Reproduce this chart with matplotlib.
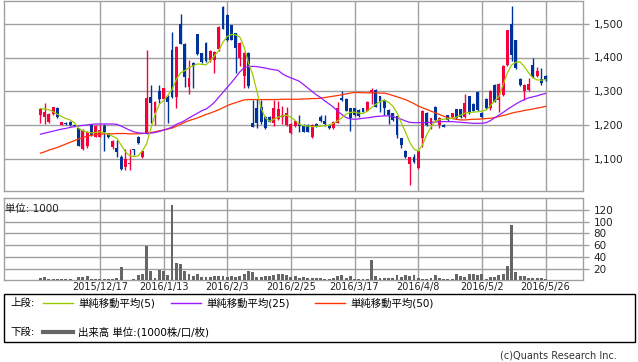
import matplotlib
matplotlib.use('Agg')
import matplotlib.pyplot as plt
from matplotlib.lines import Line2D
from matplotlib.patches import Rectangle

plt.rcParams['font.family'] = ['DejaVu Sans', 'Noto Sans CJK JP']

# daily candles (120 trading days)
opens = [1230, 1224, 1211, 1233, 1251, 1202, 1208, 1210, 1201, 1191,
         1130, 1140, 1201, 1167, 1167, 1198, 1176, 1135, 1133, 1108,
         1076, 1085, 1129, 1165, 1106, 1176, 1284, 1235, 1302, 1277,
         1284, 1422, 1284, 1500, 1441, 1314, 1384, 1468, 1412, 1444,
         1392, 1392, 1424, 1549, 1525, 1495, 1471, 1400, 1345, 1414,
         1206, 1250, 1255, 1225, 1225, 1206, 1218, 1225, 1201, 1178,
         1198, 1204, 1201, 1201, 1165, 1204, 1224, 1214, 1201, 1191,
         1208, 1282, 1278, 1250, 1250, 1245, 1250, 1243, 1299, 1304,
         1286, 1276, 1245, 1235, 1227, 1162, 1123, 1086, 1106, 1074,
         1162, 1235, 1203, 1253, 1201, 1201, 1230, 1225, 1247, 1247,
         1225, 1286, 1263, 1299, 1235, 1278, 1250, 1319, 1275, 1290,
         1377, 1500, 1451, 1338, 1302, 1304, 1379, 1345, 1337, 1345]
highs = [1250, 1265, 1235, 1255, 1253, 1211, 1211, 1212, 1202, 1193,
         1188, 1183, 1205, 1200, 1200, 1203, 1178, 1157, 1157, 1112,
         1130, 1131, 1129, 1170, 1127, 1422, 1319, 1272, 1319, 1311,
         1290, 1475, 1433, 1527, 1443, 1394, 1387, 1470, 1414, 1446,
         1421, 1419, 1492, 1551, 1527, 1497, 1473, 1445, 1416, 1416,
         1276, 1278, 1276, 1227, 1227, 1275, 1273, 1257, 1253, 1206,
         1215, 1230, 1203, 1203, 1203, 1206, 1230, 1230, 1203, 1213,
         1270, 1302, 1280, 1252, 1252, 1247, 1252, 1272, 1309, 1306,
         1288, 1278, 1247, 1237, 1229, 1164, 1127, 1108, 1116, 1125,
         1244, 1240, 1223, 1257, 1225, 1203, 1232, 1237, 1249, 1249,
         1292, 1288, 1265, 1301, 1240, 1280, 1304, 1321, 1324, 1377,
         1482, 1551, 1452, 1340, 1321, 1341, 1400, 1373, 1368, 1347]
lows = [1206, 1204, 1208, 1231, 1222, 1201, 1201, 1198, 1199, 1138,
        1128, 1132, 1170, 1165, 1165, 1124, 1162, 1130, 1106, 1068,
        1068, 1068, 1112, 1146, 1105, 1174, 1206, 1201, 1265, 1275,
        1206, 1282, 1250, 1439, 1312, 1292, 1309, 1407, 1384, 1387,
        1388, 1355, 1420, 1483, 1450, 1451, 1353, 1375, 1309, 1309,
        1194, 1191, 1205, 1189, 1209, 1198, 1216, 1204, 1198, 1176,
        1196, 1181, 1179, 1179, 1163, 1194, 1211, 1198, 1189, 1189,
        1206, 1273, 1241, 1184, 1228, 1225, 1238, 1241, 1263, 1253,
        1240, 1230, 1204, 1214, 1162, 1132, 1104, 1025, 1088, 1072,
        1137, 1198, 1190, 1214, 1191, 1194, 1214, 1223, 1219, 1222,
        1222, 1233, 1241, 1243, 1221, 1248, 1245, 1268, 1240, 1288,
        1375, 1390, 1365, 1316, 1275, 1302, 1340, 1343, 1319, 1330]
closes = [1248, 1240, 1233, 1253, 1224, 1210, 1205, 1202, 1199, 1140,
          1186, 1181, 1172, 1198, 1186, 1180, 1165, 1154, 1122, 1070,
          1102, 1088, 1126, 1149, 1123, 1281, 1267, 1270, 1278, 1309,
          1270, 1284, 1431, 1441, 1343, 1341, 1376, 1409, 1386, 1389,
          1419, 1417, 1490, 1485, 1453, 1453, 1428, 1443, 1414, 1316,
          1196, 1208, 1211, 1191, 1211, 1250, 1249, 1230, 1235, 1204,
          1213, 1198, 1181, 1181, 1201, 1196, 1214, 1204, 1191, 1211,
          1250, 1275, 1243, 1221, 1230, 1227, 1240, 1270, 1304, 1255,
          1270, 1250, 1230, 1216, 1172, 1142, 1106, 1106, 1093, 1123,
          1242, 1201, 1221, 1216, 1221, 1196, 1216, 1235, 1221, 1224,
          1265, 1235, 1243, 1245, 1224, 1250, 1302, 1270, 1322, 1375,
          1480, 1407, 1368, 1319, 1319, 1322, 1343, 1361, 1325, 1333]

ma5 = [1250, 1248, 1246, 1240, 1233, 1226, 1220, 1216, 1208, 1191,
       1184, 1180, 1178, 1179, 1181, 1178, 1174, 1168, 1162, 1142,
       1122, 1111, 1108, 1110, 1125, 1145, 1190, 1232, 1262, 1273,
       1288, 1306, 1335, 1355, 1361, 1370, 1376, 1381, 1380, 1378,
       1390, 1405, 1420, 1445, 1462, 1468, 1467, 1460, 1430, 1385,
       1350, 1300, 1250, 1222, 1212, 1218, 1224, 1228, 1230, 1224,
       1215, 1203, 1199, 1198, 1196, 1197, 1198, 1199, 1200, 1206,
       1213, 1222, 1233, 1238, 1239, 1236, 1235, 1242, 1252, 1262,
       1270, 1274, 1268, 1257, 1237, 1208, 1180, 1150, 1130, 1124,
       1142, 1172, 1195, 1212, 1217, 1218, 1219, 1221, 1224, 1230,
       1236, 1238, 1239, 1240, 1242, 1245, 1258, 1272, 1285, 1320,
       1355, 1378, 1386, 1387, 1373, 1355, 1340, 1334, 1333, 1335]
ma25 = [1174, 1177, 1180, 1183, 1186, 1189, 1191, 1194, 1196, 1198,
        1200, 1201, 1203, 1204, 1204, 1204, 1204, 1204, 1203, 1198,
        1192, 1186, 1181, 1178, 1177, 1176, 1177, 1179, 1182, 1186,
        1190, 1195, 1203, 1208, 1214, 1222, 1229, 1236, 1243, 1248,
        1257, 1268, 1283, 1297, 1312, 1326, 1342, 1358, 1370, 1373,
        1374, 1373, 1371, 1369, 1366, 1364, 1362, 1352, 1345, 1340,
        1335, 1330, 1320, 1310, 1300, 1290, 1282, 1272, 1263, 1254,
        1242, 1232, 1223, 1219, 1218, 1219, 1221, 1222, 1224, 1226,
        1227, 1228, 1228, 1226, 1222, 1218, 1213, 1209, 1208, 1208,
        1208, 1208, 1209, 1210, 1211, 1211, 1211, 1211, 1210, 1209,
        1208, 1207, 1206, 1206, 1206, 1208, 1214, 1222, 1230, 1238,
        1247, 1255, 1263, 1270, 1276, 1281, 1284, 1287, 1291, 1294]
ma50 = [1118, 1122, 1127, 1131, 1135, 1140, 1145, 1150, 1155, 1160,
        1164, 1168, 1171, 1173, 1174, 1175, 1175, 1175, 1176, 1176,
        1176, 1175, 1175, 1175, 1176, 1177, 1179, 1181, 1184, 1186,
        1189, 1192, 1197, 1203, 1209, 1214, 1218, 1222, 1227, 1232,
        1236, 1241, 1246, 1252, 1258, 1263, 1267, 1271, 1275, 1276,
        1276, 1276, 1276, 1276, 1276, 1276, 1276, 1277, 1277, 1277,
        1277, 1277, 1278, 1278, 1279, 1279, 1280, 1282, 1284, 1286,
        1288, 1290, 1293, 1295, 1297, 1297, 1296, 1296, 1296, 1296,
        1295, 1295, 1292, 1288, 1284, 1280, 1276, 1270, 1264, 1257,
        1252, 1247, 1242, 1237, 1232, 1227, 1222, 1220, 1218, 1216,
        1216, 1217, 1218, 1218, 1219, 1220, 1221, 1223, 1226, 1229,
        1232, 1236, 1239, 1241, 1244, 1246, 1248, 1251, 1253, 1256]

# volume, unit 1000
volume = [4, 6, 3, 2.5, 2, 3, 2.5, 2.5, 1, 6,
          5, 7.5, 3, 2.5, 2, 1.5, 2, 2, 4, 22,
          1, 1, 1.5, 9.5, 11, 59, 16.5, 4, 18, 15,
          9.5, 128, 30, 27, 16.5, 11, 7.5, 10.5, 6, 5,
          6, 7, 7.5, 7.5, 5, 7, 6, 8, 10.5, 16,
          14.5, 5, 6, 6.5, 7.5, 9.5, 10, 10.5, 9.5, 6,
          6.5, 4, 5, 4, 4, 3.5, 3.5, 2.5, 3, 4,
          7, 9.5, 3.5, 8, 2.5, 2, 2.5, 3, 34, 8,
          3.5, 4.5, 4.5, 3.5, 9.5, 5, 9, 8, 9.5, 4.5,
          3, 1.5, 3.5, 9.5, 4.5, 1.5, 2.5, 2.5, 11, 7.5,
          6, 10, 10.5, 9.5, 11, 2, 6, 6, 9.5, 11,
          25, 94, 13.5, 8, 6.5, 3.5, 4, 3.5, 4, 3]

tick_pos = [14, 29, 44, 59, 74, 89, 104, 119]
tick_labels = ['2015/12/17', '2016/1/13', '2016/2/3', '2016/2/25',
               '2016/3/17', '2016/4/8', '2016/5/2', '2016/5/26']
price_ticks = [1100, 1200, 1300, 1400, 1500]
vol_ticks = [20, 40, 60, 80, 100, 120]

UP = '#f5003d'
DOWN = '#00339a'
GRID = '#a0a0a0'

W, H = 638, 362
fig = plt.figure(figsize=(W / 100, H / 100), dpi=100)


def box(x0, y0, x1, y1):
    # pixel box -> figure fraction
    return [x0 / W, 1 - y1 / H, (x1 - x0) / W, (y1 - y0) / H]


ax = fig.add_axes(box(3.5, 0.5, 582.5, 190.5))
axv = fig.add_axes(box(3.5, 198, 582.5, 280.3))

x = list(range(len(closes)))
colors = [UP if c >= o else DOWN for o, c in zip(opens, closes)]
bottoms = [min(o, c) for o, c in zip(opens, closes)]
heights = [max(abs(c - o), 1.5) for o, c in zip(opens, closes)]

ax.vlines(x, lows, highs, colors=colors, lw=1, zorder=2)
ax.bar(x, heights, bottom=bottoms, width=0.68, color=colors, lw=0, zorder=3)
ax.plot(x, ma50, color='#ff3300', lw=0.9, zorder=4)
ax.plot(x, ma25, color='#9a1aff', lw=0.9, zorder=4)
ax.plot(x, ma5, color='#99cc00', lw=0.9, zorder=5)

axv.bar(x, volume, width=0.68, color='#666666', lw=0, zorder=3)

for a in (ax, axv):
    a.set_xlim(-8.7, 127.7)
    a.set_xticks(tick_pos)
    a.grid(True, color=GRID, lw=1.0, zorder=0)
    a.set_axisbelow(True)
    for s in a.spines.values():
        s.set_color(GRID)
        s.set_linewidth(1.0)
    a.yaxis.tick_right()
    a.tick_params(axis='y', direction='out', length=4, width=1, color=GRID,
                  labelsize=7.5, pad=4, labelcolor='#222222')

ax.set_ylim(1008, 1568)
ax.set_yticks(price_ticks)
ax.set_yticklabels([f'{v:,}' for v in price_ticks])
ax.tick_params(axis='x', length=0, labelbottom=False)

axv.set_ylim(0, 140)
axv.set_yticks(vol_ticks)
axv.set_xticklabels(tick_labels)
axv.tick_params(axis='x', length=0, pad=1.5, labelsize=7, labelcolor='#222222')

fig.text(5 / W, 1 - 209 / H, '単位: 1000', fontsize=7.5, va='center', ha='left',
         color='#222222')

# legend box
fig.patches.append(Rectangle((4 / W, 1 - 342 / H), 631 / W, 48 / H,
                             transform=fig.transFigure, fill=False,
                             edgecolor='#000000', lw=1))
row1 = 1 - 303 / H
row2 = 1 - 332 / H
fig.text(10 / W, row1, '上段:', fontsize=7.5, va='center')
fig.text(10 / W, row2, '下段:', fontsize=7.5, va='center')
legend_items = [(43, '#99cc00', '単純移動平均(5)'),
                (171, '#9a1aff', '単純移動平均(25)'),
                (315, '#ff3300', '単純移動平均(50)')]
for lx, col, label in legend_items:
    fig.add_artist(Line2D([lx / W, (lx + 30) / W], [row1, row1], color=col,
                          lw=1, transform=fig.transFigure))
    fig.text((lx + 35) / W, row1, label, fontsize=7.5, va='center')
fig.add_artist(Line2D([43 / W, 73 / W], [row2, row2], color='#666666', lw=3,
                      transform=fig.transFigure))
fig.text(78 / W, row2, '出来高 単位:(1000株/口/枚)', fontsize=7.5, va='center')

fig.text(617 / W, 1 - 356 / H, '(c)Quants Research Inc.', fontsize=7,
         ha='right', va='center', color='#333333')

fig.savefig('out.png', dpi=100)
